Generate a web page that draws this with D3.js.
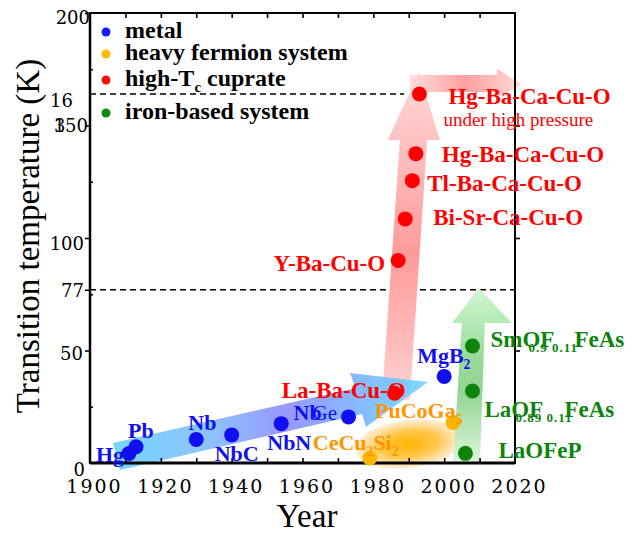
<!DOCTYPE html>
<html>
<head>
<meta charset="utf-8">
<script src="https://cdn.jsdelivr.net/npm/d3@7"></script>
<style>
  body { margin: 0; background: #fff; }
  svg { display: block; }
</style>
</head>
<body>
<script>
// ---- data (year, Tc in K) ----
const metalNames = ["Hg", "Pb", "Nb", "NbC", "NbN", "Nb3Ge", "MgB2"];
const metalYear = [1911, 1913, 1930, 1940, 1954, 1973, 2000];
const metalTc = [4.2, 7.2, 10.5, 12.5, 17.5, 20.5, 38.5];

const heavyNames = ["CeCu2Si2", "PuCoGa5"];
const heavyYear = [1979, 2002.5];
const heavyTc = [2.2, 18];

const cuprateNames = ["La-Ba-Cu-O", "Y-Ba-Cu-O", "Bi-Sr-Ca-Cu-O", "Tl-Ba-Ca-Cu-O", "Hg-Ba-Ca-Cu-O", "Hg-Ba-Ca-Cu-O (high pressure)"];
const cuprateYear = [1986, 1987, 1989, 1991, 1992, 1993];
const cuprateTc = [31, 90, 108.5, 125.5, 137.5, 164];

const ironNames = ["LaOFeP", "LaO0.89F0.11FeAs", "SmO0.9F0.1FeAs"];
const ironYear = [2006, 2008, 2008];
const ironTc = [4.3, 32, 52];

const xMinorTicks = [1910, 1920, 1930, 1940, 1950, 1960, 1970, 1980, 1990, 2000, 2010];
const xLabelTicks = [1900, 1920, 1940, 1960, 1980, 2000, 2020];
const yLabelTicks = [0, 50, 77, 100, 150, 164, 200];
const yLabelText = ["0", "50", "77", "100", "150", "16", "200"];
const yMinorTicks = [25, 75, 125, 175];
const refLines = [77, 164];

const legendNames = ["metal", "heavy fermion system", "high-T_{c} cuprate", "iron-based system"];

// trend arrows, corners in (year, K)
const blueArrow = [[1906.5, 8.9], [1975.0, 33.3], [1973.4, 40], [1995.4, 36], [1977.9, 16], [1976.8, 21.8], [1908.5, -3.1]];
const redArrow = [[1982.4, 28], [1987.5, 143.6], [1984.1, 143.6], [1992.9, 173.8], [1998.8, 143.6], [1995.2, 143.6], [1990.3, 28]];
const redTopArrow = [[1990.3, 172.4], [2014.9, 172.4], [2014.9, 175.3], [2022.0, 168], [2014.9, 162.6], [2014.9, 164.9], [1990.3, 164.9]];
const greenArrow = [[2002.5, 0], [2005.0, 62.2], [2002.2, 62.2], [2009.8, 77.8], [2019.1, 62.2], [2011.5, 62.2], [2010.1, 0]];
const heavyBlob = { year: [1974.8, 2005.3], tc: [-2.2, 19.1] };

// ---- setup ----
const W = 633, H = 535;
const serif = "'Liberation Serif', 'Times New Roman', serif";
const tickFont = "'DejaVu Serif', serif";
const BLUE = "#0f0ff0", ORANGE = "#ff9600", RED = "#ff0000", GREEN = "#0d840d";

const svg = d3.select("body").append("svg")
  .attr("width", W).attr("height", H);

svg.append("rect").attr("width", W).attr("height", H).attr("fill", "#fff");

const x = d3.scaleLinear().domain([1900, 2020]).range([90, 515]);
const y = d3.scaleLinear().domain([0, 200]).range([463, 13]);

const defs = svg.append("defs");

function linGrad(id, x1, y1, x2, y2, stops) {
  const g = defs.append("linearGradient").attr("id", id)
    .attr("gradientUnits", "userSpaceOnUse")
    .attr("x1", x1).attr("y1", y1).attr("x2", x2).attr("y2", y2);
  stops.forEach(s => g.append("stop").attr("offset", s[0]).attr("stop-color", s[1]).attr("stop-opacity", s[2] ?? 1));
}

linGrad("blueGrad", x(1906), 0, x(1995), 0, [
  [0, "#62d0fa"], [0.3, "#7cbcff"], [0.55, "#8a8aff"], [0.78, "#76b0ff"], [1, "#6ad6ff"]]);
linGrad("redGrad", 0, y(174), 0, y(28), [
  [0, "#ffd8d8"], [0.3, "#ffb8b8"], [0.55, "#ff9a9a"], [0.8, "#ffb8b8"], [1, "#ffd4d4"]]);
linGrad("redTopGrad", x(1990), 0, x(2022), 0, [
  [0, "#ffdede"], [0.5, "#ffa0a0"], [1, "#ffdada"]]);
linGrad("greenGrad", 0, y(78), 0, y(0), [
  [0, "#d2f8d2"], [0.4, "#98da98"], [0.6, "#94d494"], [1, "#dcf8dc"]]);

const rg = defs.append("radialGradient").attr("id", "orangeGrad");
rg.append("stop").attr("offset", 0).attr("stop-color", "#ffb400");
rg.append("stop").attr("offset", 0.55).attr("stop-color", "#ffc23a").attr("stop-opacity", 0.9);
rg.append("stop").attr("offset", 1).attr("stop-color", "#ffe2b8").attr("stop-opacity", 0.6);

const line = d3.line().x(d => x(d[0])).y(d => y(d[1]));

// reference dashed lines
const refEnd = { 77: 2020, 164: 1988.7 };
svg.selectAll(".ref").data(refLines).enter().append("path")
  .attr("d", d => line([[1900, d], [refEnd[d], d]]))
  .attr("stroke", "#000").attr("stroke-width", 1.6)
  .attr("stroke-dasharray", "6,4").attr("fill", "none");

// trend arrows
const arrows = svg.append("g");
arrows.append("path").attr("d", line(redArrow) + "Z").attr("fill", "url(#redGrad)");
arrows.append("path").attr("d", line(redTopArrow) + "Z").attr("fill", "url(#redTopGrad)");
arrows.append("path").attr("d", line(blueArrow) + "Z").attr("fill", "url(#blueGrad)").attr("opacity", 0.88);
const bcx = x(d3.mean(heavyBlob.year)), bcy = y(d3.mean(heavyBlob.tc));
arrows.append("ellipse")
  .attr("cx", bcx).attr("cy", bcy)
  .attr("rx", (x(heavyBlob.year[1]) - x(heavyBlob.year[0])) / 2)
  .attr("ry", (y(heavyBlob.tc[0]) - y(heavyBlob.tc[1])) / 2)
  .attr("transform", `rotate(-7,${bcx},${bcy})`)
  .attr("fill", "url(#orangeGrad)");
arrows.append("path").attr("d", line(greenArrow) + "Z").attr("fill", "url(#greenGrad)");

// ---- axes ----
function clean(g) { g.select(".domain").remove(); g.selectAll("line").attr("stroke-width", 1.6); }

svg.append("g").attr("transform", `translate(0,${y(0)})`)
  .call(d3.axisBottom(x).tickValues(xMinorTicks).tickSize(-5).tickFormat("")).call(clean);
svg.append("g").attr("transform", `translate(0,${y(200)})`)
  .call(d3.axisTop(x).tickValues(xMinorTicks).tickSize(-5).tickFormat("")).call(clean);

const xl = svg.append("g").attr("transform", `translate(0,${y(0)})`)
  .call(d3.axisBottom(x).tickValues(xLabelTicks).tickSize(0).tickPadding(17).tickFormat(d3.format("d")));
xl.select(".domain").remove();
xl.selectAll("text").attr("dx", 4).attr("font-family", tickFont).attr("font-size", 19)
  .attr("letter-spacing", 2).attr("fill", "#000");

const yl = svg.append("g").attr("transform", `translate(${x(1900)},0)`)
  .call(d3.axisLeft(y).tickValues(yLabelTicks).tickSize(5).tickPadding(1).tickFormat((d, i) => yLabelText[i]));
yl.select(".domain").remove();
yl.selectAll("line").attr("stroke-width", 1.6).attr("opacity", d => d === 164 || d === 0 ? 0 : 1);
const yNudge = { 0: [1, 6], 50: [-1, 2.5], 77: [0, 0.5], 100: [0, 5], 150: [4, 0], 164: [-11, 6], 200: [6, 4] };
yl.selectAll("text").attr("font-family", tickFont).attr("font-size", 18).attr("fill", "#000")
  .attr("dx", d => yNudge[d][0]).attr("dy", d => (yNudge[d][1] + 6) + "px");
// the reference has a stray "3" printed over the 150 label
svg.append("text").attr("x", x(1900) - 6 + 4 - 34).attr("y", y(150) + 6)
  .attr("font-family", tickFont).attr("font-size", 18).text("3");

svg.append("g").attr("transform", `translate(${x(1900)},0)`)
  .call(d3.axisRight(y).tickValues(yMinorTicks).tickSize(3).tickFormat("")).call(clean);
svg.append("g").attr("transform", `translate(${x(2020)},0)`)
  .call(d3.axisLeft(y).tickValues([50, 100, 150]).tickSize(-5).tickFormat("")).call(clean);

// frame
svg.append("rect").attr("x", x(1900)).attr("y", y(200))
  .attr("width", x(2020) - x(1900)).attr("height", y(0) - y(200))
  .attr("fill", "none").attr("stroke", "#000").attr("stroke-width", 2);
svg.append("path").attr("d", line([[1900, 0], [2020, 0]])).attr("stroke", "#000").attr("stroke-width", 3);
svg.append("path").attr("d", line([[1900, 0], [1900, 200]])).attr("stroke", "#000").attr("stroke-width", 2.5);

// axis titles
svg.append("text").attr("x", 307).attr("y", 527).attr("text-anchor", "middle")
  .attr("font-family", serif).attr("font-size", 33).text("Year");
svg.append("text").attr("transform", "translate(39,236) rotate(-90)").attr("text-anchor", "middle")
  .attr("font-family", serif).attr("font-size", 33).text("Transition temperature (K)");

// ---- text helper: "_{..}" marks a subscript ----
function addText(px, py, str, o) {
  const t = svg.append("text").attr("x", px).attr("y", py)
    .attr("font-family", serif).attr("font-size", o.size || 23)
    .attr("font-weight", o.weight || "bold").attr("fill", o.fill)
    .attr("text-anchor", o.anchor || "start");
  if (o.ls) t.attr("letter-spacing", o.ls);
  const parts = str.split(/(_\{[^}]*\})/).filter(s => s.length);
  let down = false;
  parts.forEach(p => {
    if (p.startsWith("_{")) {
      t.append("tspan").attr("dy", 6).attr("font-size", "0.62em").text(p.slice(2, -1));
      down = true;
    } else {
      t.append("tspan").attr("dy", down ? -6 : 0).text(p);
      down = false;
    }
  });
  return t;
}

function dots(years, tcs, color) {
  svg.append("g").selectAll("circle").data(years).enter().append("circle")
    .attr("cx", d => x(d)).attr("cy", (d, i) => y(tcs[i])).attr("r", 7.5).attr("fill", color);
}

// label offsets from each point, in px
const metalLabel = {
  "Hg": [-33, 8.5, "Hg"], "Pb": [-8, -9, "Pb"], "Nb": [-8, -9, "Nb"], "NbC": [-17, 26, "NbC"],
  "NbN": [-14, 26, "NbN"], "MgB2": [-27, -13, "MgB_{2}"]
};
const heavyLabel = { "CeCu2Si2": [-57, -8, "CeCu_{2}Si_{2}"], "PuCoGa5": [-78, -4.5, "PuCoGa_{5}"] };
const cuprateLabel = [[11, 5, "end"], [-13, 10, "end"], [28, 6, "start"], [15, 10, "start"], [26, 8, "start"], [29, 10, "start"]];

// metal
dots(metalYear, metalTc, BLUE);
metalNames.forEach((n, i) => {
  const px = x(metalYear[i]), py = y(metalTc[i]);
  if (n === "Nb3Ge") {
    addText(px - 55, py + 3, "Nb", { fill: BLUE, size: 22 });
    addText(px - 36, py + 3, "Ge", { fill: BLUE, size: 21, weight: "normal" });
    return;
  }
  const L = metalLabel[n];
  addText(px + L[0], py + L[1], L[2], { fill: BLUE, size: 22 });
});

// heavy fermion
dots(heavyYear, heavyTc, "#ffb400");
heavyNames.forEach((n, i) => {
  const L = heavyLabel[n];
  addText(x(heavyYear[i]) + L[0], y(heavyTc[i]) + L[1], L[2], { fill: ORANGE, size: 22 });
});

// cuprates (labels under the dots where they overlap)
cuprateNames.forEach((n, i) => {
  const L = cuprateLabel[i];
  const px = x(cuprateYear[i]), py = y(cuprateTc[i]);
  addText(px + L[0], py + L[1], n.replace(" (high pressure)", ""), { fill: RED, size: 23, anchor: L[2] });
  if (n.includes("pressure")) {
    addText(px + 24, py + 32, "under high pressure", { fill: RED, size: 19, weight: "normal" });
  }
});
dots(cuprateYear, cuprateTc, RED);

// iron based
dots(ironYear, ironTc, GREEN);
ironNames.forEach((n, i) => {
  const px = x(ironYear[i]), py = y(ironTc[i]);
  if (n === "LaOFeP") {
    addText(px + 33, py + 5, "LaOFeP", { fill: GREEN });
  } else if (n.startsWith("LaO")) {
    addText(px + 12, py + 26, "LaOF", { fill: GREEN });
    addText(px + 43, py + 31, "0.89 0.11", { fill: GREEN, size: 13, ls: 1 });
    addText(px + 92, py + 26, "FeAs", { fill: GREEN });
  } else {
    addText(px + 18, py + 1, "SmOF", { fill: GREEN });
    addText(px + 56, py + 6, "0.9 0.11", { fill: GREEN, size: 13, ls: 1 });
    addText(px + 102, py + 1, "FeAs", { fill: GREEN });
  }
});

// ---- legend ----
const legendColors = ["#1a1aff", "#ffbb00", "#ff1010", "#108a10"];
const legendY = [32, 54, 80, 113];
legendNames.forEach((n, i) => {
  svg.append("circle").attr("cx", 106).attr("cy", legendY[i]).attr("r", 4.5).attr("fill", legendColors[i]);
  addText(125, legendY[i] + 6, n, { fill: "#000", size: 24 });
});
</script>
</body>
</html>
